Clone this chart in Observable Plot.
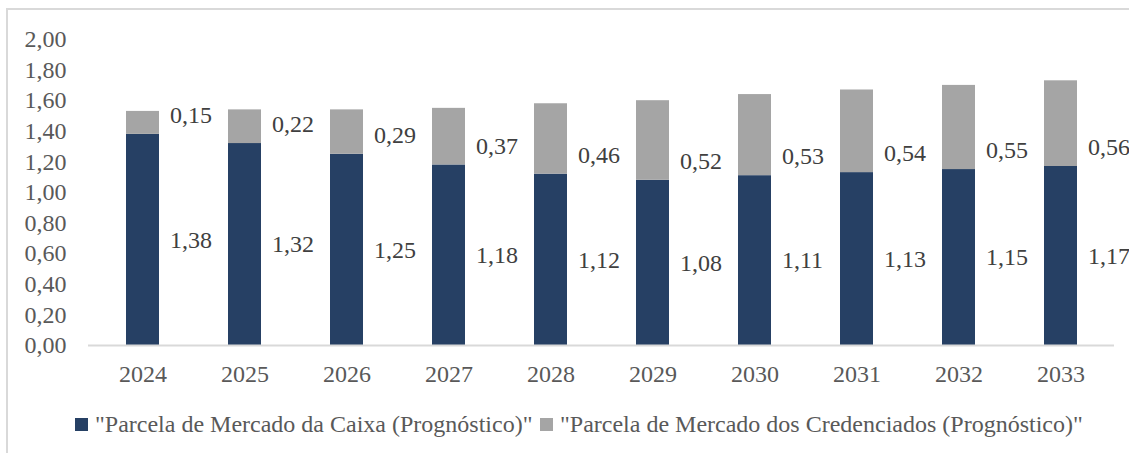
<!DOCTYPE html>
<html>
<head>
<meta charset="utf-8">
<script src="https://cdn.jsdelivr.net/npm/d3@7"></script>
<script src="https://cdn.jsdelivr.net/npm/@observablehq/plot@0.6"></script>
<style>
  html, body { margin: 0; padding: 0; background: #fff; }
  body { width: 1129px; height: 453px; position: relative; overflow: hidden; font-family: "Liberation Serif", "Times New Roman", serif; }
  #frame { position: absolute; left: 6px; top: 8px; width: 1200px; height: 500px; border-left: 2px solid #D9D9D9; border-top: 2px solid #D9D9D9; }
  #chart { position: absolute; left: 0; top: 0; }
  #chart svg text { font-family: "Liberation Serif", "Times New Roman", serif; }
  #legend { position: absolute; left: 0; top: 411px; width: 1129px; font-size: 24px; color: #595959; }
  .item { position: absolute; top: 0; white-space: nowrap; line-height: 27px; }
  .sw { display: inline-block; width: 13px; height: 13px; margin-right: 7px; vertical-align: 1px; }
</style>
</head>
<body>
<div id="frame"></div>
<div id="chart"></div>
<div id="legend">
  <div class="item" style="left:75px"><span class="sw" style="background:#264064"></span>"Parcela de Mercado da Caixa (Prognóstico)"</div>
  <div class="item" style="left:540px"><span class="sw" style="background:#A5A5A5"></span>"Parcela de Mercado dos Credenciados (Prognóstico)"</div>
</div>
<script>
const years = ["2024","2025","2026","2027","2028","2029","2030","2031","2032","2033"];
const caixa = [1.38, 1.32, 1.25, 1.18, 1.12, 1.08, 1.11, 1.13, 1.15, 1.17];
const credenciados = [0.15, 0.22, 0.29, 0.37, 0.46, 0.52, 0.53, 0.54, 0.55, 0.56];
const seriesNames = ["\"Parcela de Mercado da Caixa (Prognóstico)\"", "\"Parcela de Mercado dos Credenciados (Prognóstico)\""];
const colors = ["#264064", "#A5A5A5"];
const yTicks = [0, 0.2, 0.4, 0.6, 0.8, 1.0, 1.2, 1.4, 1.6, 1.8, 2.0];

const fmt = v => d3.format(".2f")(v).replace(".", ",");

const rows = [];
years.forEach((y, i) => {
  rows.push({year: y, series: seriesNames[0], value: caixa[i], base: caixa[i]});
  rows.push({year: y, series: seriesNames[1], value: credenciados[i], base: caixa[i]});
});
const bottomRows = rows.filter(d => d.series === seriesNames[0]);
const topRows = rows.filter(d => d.series === seriesNames[1]);

const chart = Plot.plot({
  width: 1129,
  height: 400,
  marginLeft: 88,
  marginRight: 15,
  marginTop: 39,
  marginBottom: 55,
  style: "font-family: 'Liberation Serif', 'Times New Roman', serif; font-size: 24px; color: #595959; background: transparent;",
  x: {domain: years, paddingInner: 0.68, paddingOuter: 0.34, label: null},
  y: {domain: [0, 2], ticks: yTicks, tickFormat: fmt, label: null},
  color: {domain: seriesNames, range: colors},
  marks: [
    Plot.axisY({ticks: yTicks, tickFormat: fmt, tickSize: 0, tickPadding: 22, fontSize: 24, fill: "#595959"}),
    Plot.axisX({tickSize: 0, tickPadding: 19, fontSize: 24, fill: "#595959"}),
    Plot.barY(rows, {x: "year", y: "value", fill: "series", order: seriesNames}),
    Plot.ruleY([0], {stroke: "#D9D9D9", strokeWidth: 2}),
    Plot.text(bottomRows, {x: "year", y: d => d.value / 2, text: d => fmt(d.value), textAnchor: "start", dx: 27, fontSize: 24, fill: "#404040"}),
    Plot.text(topRows, {x: "year", y: "base", text: d => fmt(d.value), textAnchor: "start", dx: 27, dy: -19, fontSize: 24, fill: "#404040"})
  ]
});
document.getElementById("chart").appendChild(chart);
</script>
</body>
</html>
